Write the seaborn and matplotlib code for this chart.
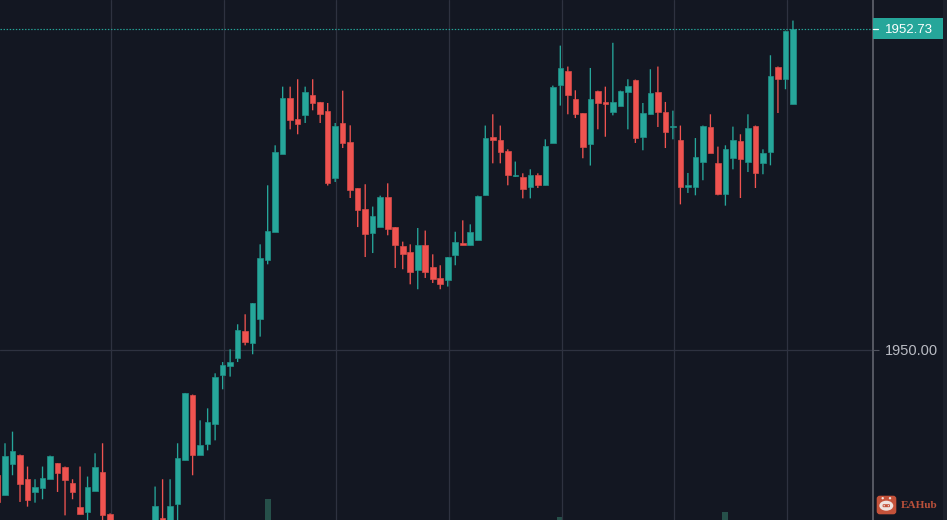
"""
Gráfico de velas XAU con fondo oscuro, estilo terminal de trading.
"""

import matplotlib
from matplotlib import pyplot as plt
from matplotlib.patches import Circle, Ellipse, FancyBboxPatch, Rectangle
from matplotlib.transforms import IdentityTransform
import pandas as pd
import seaborn as sns

matplotlib.use('Agg')

# Velas visibles; las posiciones 16 a 20 quedan fuera de la ventana, por debajo
indices = list(range(16)) + list(range(21, 107))

opens = [
    1948.933, 1948.763, 1949.026, 1949.109, 1948.899, 1948.794, 1948.825, 1948.901,
    1949.035, 1949.007, 1948.865, 1948.663, 1948.624, 1948.803, 1948.961, 1948.601,
    1948.470, 1948.569, 1948.516, 1948.689, 1949.060, 1949.619, 1949.105, 1949.199,
    1949.369, 1949.786, 1949.860, 1949.930, 1950.163, 1950.058, 1950.262, 1950.761,
    1951.005, 1951.665, 1952.139, 1951.960, 1951.994, 1952.170, 1952.108, 1952.034,
    1951.461, 1951.926, 1951.767, 1951.374, 1951.195, 1950.993, 1951.048, 1951.300,
    1951.044, 1950.886, 1950.832, 1950.676, 1950.895, 1950.704, 1950.608, 1950.591,
    1950.804, 1950.906, 1950.889, 1950.931, 1951.314, 1951.813, 1951.788, 1951.694,
    1951.482, 1951.467, 1951.388, 1951.490, 1951.399, 1951.759, 1952.252, 1952.375,
    1952.130, 1952.011, 1951.748, 1952.204, 1952.108, 1952.026, 1952.077, 1952.193,
    1952.298, 1951.813, 1952.003, 1952.193, 1952.022, 1951.895, 1951.788, 1951.388,
    1951.388, 1951.601, 1951.895, 1951.589, 1951.323, 1951.631, 1951.779, 1951.601,
    1951.907, 1951.589, 1951.686, 1952.409, 1952.301, 1952.088,
]
highs = [
    1948.933, 1949.205, 1949.304, 1949.109, 1949.007, 1948.899, 1949.007, 1949.100,
    1949.035, 1949.007, 1948.899, 1949.007, 1948.922, 1949.120, 1949.205, 1948.609,
    1948.837, 1948.899, 1948.899, 1949.205, 1949.633, 1949.619, 1949.400, 1949.502,
    1949.800, 1949.896, 1950.004, 1950.217, 1950.302, 1950.398, 1950.897, 1951.399,
    1951.739, 1952.238, 1952.238, 1952.301, 1952.238, 1952.301, 1952.108, 1952.099,
    1951.929, 1952.204, 1951.909, 1951.374, 1951.408, 1951.218, 1951.311, 1951.416,
    1951.044, 1950.920, 1950.897, 1951.036, 1951.014, 1950.812, 1950.719, 1950.789,
    1951.004, 1951.101, 1951.067, 1951.311, 1951.907, 1952.003, 1951.907, 1951.705,
    1951.601, 1951.501, 1951.535, 1951.501, 1951.790, 1952.247, 1952.587, 1952.409,
    1952.207, 1952.011, 1952.397, 1952.204, 1952.238, 1952.611, 1952.204, 1952.301,
    1952.298, 1952.099, 1952.386, 1952.409, 1952.108, 1952.034, 1951.907, 1951.504,
    1951.801, 1951.907, 1952.003, 1951.728, 1951.739, 1951.898, 1951.833, 1952.003,
    1951.907, 1951.705, 1952.505, 1952.409, 1952.715, 1952.800,
]
lows = [
    1948.686, 1948.763, 1948.933, 1948.706, 1948.666, 1948.700, 1948.729, 1948.901,
    1948.791, 1948.592, 1948.729, 1948.601, 1948.516, 1948.803, 1948.516, 1948.516,
    1948.470, 1948.470, 1948.516, 1948.541, 1949.060, 1948.933, 1949.105, 1949.145,
    1949.230, 1949.664, 1949.772, 1949.896, 1950.038, 1949.962, 1950.112, 1950.727,
    1951.005, 1951.665, 1951.875, 1951.833, 1951.929, 1952.037, 1951.929, 1951.397,
    1951.427, 1951.716, 1951.291, 1951.044, 1950.789, 1950.823, 1951.048, 1950.974,
    1950.696, 1950.685, 1950.557, 1950.515, 1950.611, 1950.568, 1950.515, 1950.538,
    1950.719, 1950.889, 1950.889, 1950.931, 1951.314, 1951.586, 1951.586, 1951.399,
    1951.470, 1951.288, 1951.288, 1951.376, 1951.399, 1951.759, 1952.077, 1952.003,
    1951.971, 1951.629, 1951.567, 1951.875, 1951.812, 1951.994, 1952.077, 1951.875,
    1951.759, 1951.697, 1952.003, 1951.895, 1951.716, 1951.790, 1951.237, 1951.334,
    1951.314, 1951.442, 1951.674, 1951.314, 1951.226, 1951.535, 1951.291, 1951.512,
    1951.376, 1951.493, 1951.569, 1952.014, 1952.216, 1952.088,
]
closes = [
    1948.703, 1949.100, 1949.143, 1948.859, 1948.720, 1948.833, 1948.907, 1949.100,
    1948.952, 1948.890, 1948.794, 1948.601, 1948.833, 1949.007, 1948.592, 1948.516,
    1948.675, 1948.470, 1948.675, 1949.077, 1949.633, 1949.105, 1949.194, 1949.386,
    1949.772, 1949.874, 1949.896, 1950.172, 1950.070, 1950.398, 1950.778, 1951.014,
    1951.682, 1952.139, 1951.952, 1951.920, 1952.193, 1952.099, 1952.005, 1951.416,
    1951.907, 1951.759, 1951.357, 1951.186, 1950.982, 1951.141, 1951.300, 1951.027,
    1950.889, 1950.812, 1950.665, 1950.895, 1950.665, 1950.602, 1950.557, 1950.789,
    1950.917, 1950.889, 1951.002, 1951.311, 1951.799, 1951.782, 1951.686, 1951.484,
    1951.490, 1951.368, 1951.490, 1951.399, 1951.737, 1952.235, 1952.394, 1952.165,
    1952.005, 1951.728, 1952.130, 1952.099, 1952.088, 1952.108, 1952.204, 1952.247,
    1951.801, 1952.011, 1952.181, 1952.026, 1951.852, 1951.907, 1951.388, 1951.399,
    1951.640, 1951.907, 1951.674, 1951.323, 1951.705, 1951.788, 1951.620, 1951.884,
    1951.504, 1951.671, 1952.332, 1952.301, 1952.715, 1952.730,
]

# Volumen: solo asoman tres barras en la parte inferior
volumen_idx = [36, 75, 97]
volumen = [21, 3, 8]

ultimo_precio = 1952.73
precio_ticks = [1950.00]
grid_x = [15.16, 30.16, 45.16, 60.16, 75.16, 90.16, 105.16]

FONDO = '#131722'
GRID = '#2e3240'
VERDE = '#26a69a'
ROJO = '#ef5350'

sns.set_theme(style='dark', rc={'axes.facecolor': FONDO, 'figure.facecolor': FONDO})
plt.rcParams['font.family'] = ['Liberation Sans', 'DejaVu Sans']

df = pd.DataFrame({'idx': indices, 'open': opens, 'high': highs, 'low': lows, 'close': closes})
df['cuerpo'] = (df['close'] - df['open']).abs()
df['base'] = df[['open', 'close']].min(axis=1)
df['sube'] = df['close'] >= df['open']

fig = plt.figure(figsize=(9.47, 5.2), dpi=100)
# El panel de precios ocupa los últimos 75 px a la derecha
ax = fig.add_axes([0, 0, 872.5 / 947, 1])
ax_vol = fig.add_axes([0, 0, 872.5 / 947, 1], sharex=ax)
ax_vol.set_zorder(0)
ax.set_zorder(1)
ax.patch.set_alpha(0)

# Volumen por debajo de todo
ax_vol.bar(volumen_idx, volumen, width=0.82, color='#26504a', linewidth=0)
ax_vol.set_ylim(0, 520)
ax_vol.axis('off')

# Mechas
for sube, color, borde in ((True, VERDE, '#1f9288'), (False, ROJO, '#d84b48')):
    trozo = df[df['sube'] == sube]
    wicks = ax.vlines(trozo['idx'], trozo['low'], trozo['high'], colors=color, linewidth=0.95, zorder=2)
    wicks.set_snap(False)
    # Cuerpos con barplot, base en el mínimo de apertura y cierre
    sns.barplot(data=trozo, x='idx', y='cuerpo', bottom=trozo['base'].values, native_scale=True,
                color=color, saturation=1, width=0.74, errorbar=None, ax=ax, linewidth=0.5,
                edgecolor=borde, zorder=3)

ax.set(xlabel='', ylabel='')
ax.set_xlim(0.333, 116.6)
ax.set_ylim(1948.5525, 1952.975)
ax.set_xticks(grid_x)
ax.set_yticks(precio_ticks)
ax.set_yticklabels([f'{v:.2f}' for v in precio_ticks], fontsize=10.5, color='#b8bbc3')
ax.yaxis.tick_right()
ax.tick_params(axis='x', length=0, labelbottom=False)
ax.tick_params(axis='y', length=4.3, width=0.8, color='#50535e', pad=4.5)
ax.grid(True, color=GRID, linewidth=0.9, zorder=0)
ax.set_axisbelow(True)

for lado in ('top', 'left', 'bottom'):
    ax.spines[lado].set_visible(False)
ax.spines['right'].set_color('#565963')
ax.spines['right'].set_linewidth(1.4)

# Línea del último precio y su etiqueta
ax.axhline(ultimo_precio, color=VERDE, linewidth=0.85, dashes=(1.2, 1.4), zorder=4)
trans = ax.get_yaxis_transform()
ancho = 70 / 872.5
alto = 21 / 117.58
ax.add_patch(Rectangle((1.0006, ultimo_precio - alto / 2), ancho, alto, transform=trans,
                       color=VERDE, clip_on=False, zorder=5, linewidth=0))
ax.plot([1.0006, 1.0058], [ultimo_precio] * 2, transform=trans, color='white', linewidth=0.9,
        clip_on=False, zorder=6)
ax.text(1.0415, ultimo_precio, f'{ultimo_precio:.2f}', transform=trans, color='white', fontsize=9.5,
        ha='center', va='center_baseline', zorder=6)

# Franja derecha del panel
fig.add_artist(Rectangle((943.3, 0), 4, 520, transform=IdentityTransform(), color='#1c202b', linewidth=0))

# Marca de agua: icono de robot y texto
ROJO_MARCA = '#c4523a'
CLARO = '#efe3df'
alto_fig = 520
icono = [
    FancyBboxPatch((877.5, alto_fig - 513.5), 18, 17, boxstyle='round,pad=0.8,rounding_size=3',
                   transform=IdentityTransform(), color=ROJO_MARCA, linewidth=0),
    Circle((882.7, alto_fig - 498.2), 1.2, transform=IdentityTransform(), color=CLARO, linewidth=0),
    Circle((890.0, alto_fig - 498.2), 1.2, transform=IdentityTransform(), color=CLARO, linewidth=0),
    Ellipse((886.3, alto_fig - 505.7), 14, 10, transform=IdentityTransform(), color=CLARO, linewidth=0),
    FancyBboxPatch((882.8, alto_fig - 507), 7, 2.6, boxstyle='round,pad=0.2,rounding_size=1',
                   transform=IdentityTransform(), color=ROJO_MARCA, linewidth=0),
    Circle((884.2, alto_fig - 505.7), 0.7, transform=IdentityTransform(), color=CLARO, linewidth=0),
    Circle((888.4, alto_fig - 505.7), 0.7, transform=IdentityTransform(), color=CLARO, linewidth=0),
]
for parche in icono:
    fig.add_artist(parche)
fig.text(919.5 / 947, 1 - 505.5 / 520, 'EAHub', color='#b8503a', fontsize=8.1, fontweight='bold',
         family='Liberation Serif', ha='center', va='center')

fig.savefig('out.png', dpi=100, facecolor=FONDO)
plt.close(fig)
